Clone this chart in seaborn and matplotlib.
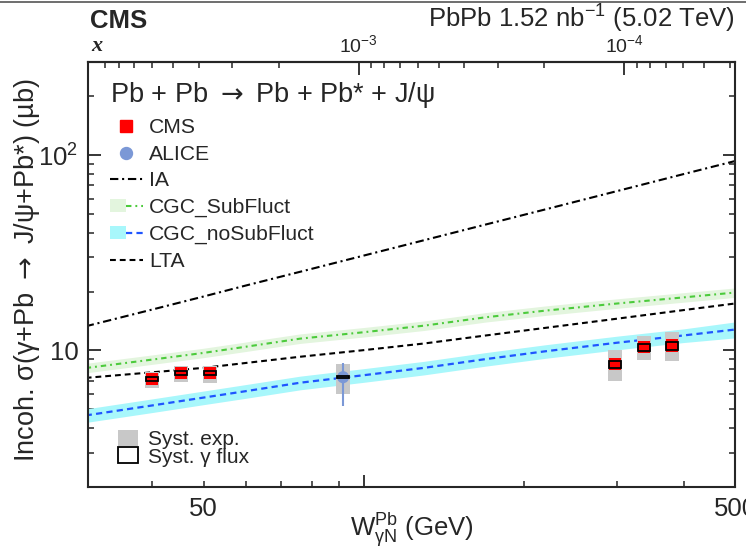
import numpy as np
import pandas as pd
import matplotlib
matplotlib.use("Agg")
import matplotlib.pyplot as plt
import seaborn as sns
from matplotlib.patches import Rectangle, Patch
from matplotlib.lines import Line2D
from matplotlib.legend_handler import HandlerTuple
from matplotlib.ticker import FixedLocator, NullFormatter, FuncFormatter

# ---------------- data ----------------
w_grid = [30, 40, 50, 60, 76, 100, 130, 170, 220, 300, 400, 500]
ia = [13.3, 16.2, 18.9, 21.5, 25.3, 30.6, 36.7, 44.2, 52.8, 65.5, 80.0, 93.3]
lta = [7.24, 7.73, 8.15, 8.63, 9.29, 10.04, 10.86, 11.94, 13.06, 14.55, 16.1, 17.4]
cgc_sub = [8.13, 8.98, 9.72, 10.45, 11.5, 12.4, 13.4, 14.8, 16.0, 17.4, 18.7, 19.8]
cgc_sub_lo = [7.68, 8.49, 9.19, 9.88, 10.87, 11.72, 12.66, 13.99, 15.12, 16.44, 17.67, 18.7]
cgc_sub_hi = [8.59, 9.49, 10.27, 11.05, 12.16, 13.11, 14.16, 15.64, 16.91, 18.39, 19.77, 20.9]
cgc_nosub = [4.65, 5.23, 5.74, 6.19, 6.84, 7.47, 8.15, 9.04, 9.91, 10.96, 11.94, 12.8]
cgc_nosub_lo = [4.28, 4.81, 5.28, 5.69, 6.29, 6.87, 7.50, 8.32, 9.12, 10.08, 10.98, 11.6]
cgc_nosub_hi = [5.02, 5.65, 6.20, 6.69, 7.39, 8.07, 8.80, 9.76, 10.70, 11.84, 12.90, 14.0]

cms_w = [40.0, 45.3, 51.5, 297, 337, 381]
cms_xs = [7.13, 7.65, 7.65, 8.51, 10.4, 10.6]
cms_syst_lo = [6.41, 6.93, 6.80, 6.99, 8.96, 8.85]
cms_syst_hi = [7.80, 8.35, 8.35, 10.08, 11.8, 12.4]
cms_flux_lo = [6.97, 7.47, 7.47, 8.18, 9.96, 10.03]
cms_flux_hi = [7.30, 7.83, 7.83, 8.86, 10.8, 11.0]

alice_w = [91.5]
alice_xs = [7.3]
alice_err_lo = [5.22]
alice_err_hi = [8.6]
alice_syst_lo = [5.97]
alice_syst_hi = [8.5]
alice_flux_lo = [7.22]
alice_flux_hi = [7.38]

top_major = [1e-3, 1e-4]
MJPSI = 3.097

# ---------------- style ----------------
sns.set_style("ticks")
plt.rcParams['font.family'] = ['Liberation Sans', 'DejaVu Sans']
plt.rcParams['mathtext.fontset'] = 'custom'
plt.rcParams['mathtext.rm'] = 'Liberation Sans'
plt.rcParams['mathtext.it'] = 'Liberation Sans:italic'
plt.rcParams['mathtext.bf'] = 'Liberation Sans:bold'

GREEN = '#4ccb3c'
GREEN_BAND = '#e3f5de'
BLUE = '#1f55ff'
CYAN_BAND = '#a8f7fb'
ALICE_C = '#7b98d6'
GREY = '#c8c8c8'

IA_LS = (0, (4.0, 1.8, 1.0, 1.8))
SUB_LS = (0, (2.6, 1.9, 0.9, 1.9))
DASH_LS = (0, (2.8, 1.9))

fig = plt.figure(figsize=(7.46, 5.52), dpi=100)
ax = fig.add_axes([88 / 746, 1 - 487 / 552, 647 / 746, 425 / 552])
ax.set_xscale('log')
ax.set_yscale('log')

df = pd.DataFrame({'W': w_grid, 'IA': ia, 'LTA': lta, 'SUB': cgc_sub, 'NOSUB': cgc_nosub})

# bands
ax.fill_between(w_grid, cgc_sub_lo, cgc_sub_hi, color=GREEN_BAND, lw=0, zorder=1)
ax.fill_between(w_grid, cgc_nosub_lo, cgc_nosub_hi, color=CYAN_BAND, lw=0, zorder=1)

# theory lines
sns.lineplot(data=df, x='W', y='IA', ax=ax, color='black', linewidth=1.5, linestyle=IA_LS, zorder=2)
sns.lineplot(data=df, x='W', y='SUB', ax=ax, color=GREEN, linewidth=1.5, linestyle=SUB_LS, zorder=2)
sns.lineplot(data=df, x='W', y='NOSUB', ax=ax, color=BLUE, linewidth=1.6, linestyle=DASH_LS, zorder=2)
sns.lineplot(data=df, x='W', y='LTA', ax=ax, color='black', linewidth=1.5, linestyle=DASH_LS, zorder=2)

# systematic boxes
def box(w, lo, hi, half_dex, **kw):
    x0 = w * 10 ** (-half_dex)
    x1 = w * 10 ** (half_dex)
    ax.add_patch(Rectangle((x0, lo), x1 - x0, hi - lo, **kw))

for w, lo, hi in zip(cms_w + alice_w, cms_syst_lo + alice_syst_lo, cms_syst_hi + alice_syst_hi):
    box(w, lo, hi, 0.0132, facecolor=GREY, edgecolor='none', zorder=3)

ax.vlines(alice_w, alice_err_lo, alice_err_hi, color=ALICE_C, lw=1.5, zorder=3.5)

sns.scatterplot(x=cms_w, y=cms_xs, ax=ax, marker='s', s=76, color='red', edgecolor='none', zorder=4, legend=False)
sns.scatterplot(x=alice_w, y=alice_xs, ax=ax, marker='o', s=76, color=ALICE_C, edgecolor='none', zorder=4, legend=False)

for w, lo, hi in zip(cms_w + alice_w, cms_flux_lo + alice_flux_lo, cms_flux_hi + alice_flux_hi):
    box(w, lo, hi, 0.0113, facecolor='none', edgecolor='black', lw=1.3, zorder=5)

# axes limits & ticks
ax.set_xlim(30.3, 500)
ax.set_ylim(2, 300)
ax.set_xlabel('')
ax.set_ylabel('')

ax.xaxis.set_major_locator(FixedLocator([100]))
ax.xaxis.set_major_formatter(NullFormatter())
ax.xaxis.set_minor_locator(FixedLocator([40, 50, 60, 70, 80, 90, 200, 300, 400, 500]))
ax.xaxis.set_minor_formatter(FuncFormatter(lambda v, p: '%d' % v if round(v) in (50, 500) else ''))

ax.yaxis.set_major_locator(FixedLocator([10, 100]))
ax.yaxis.set_major_formatter(FuncFormatter(lambda v, p: '10' if round(v) == 10 else r'$10^{2}$'))
ax.yaxis.set_minor_locator(FixedLocator([2, 3, 4, 5, 6, 7, 8, 9, 20, 30, 40, 50, 60, 70, 80, 90, 200, 300]))
ax.yaxis.set_minor_formatter(NullFormatter())

ax.tick_params(axis='x', which='both', direction='in', bottom=True, top=False, labelsize=18.5, pad=7)
ax.tick_params(axis='y', which='both', direction='in', left=True, right=True, labelsize=18.5, pad=7)
ax.tick_params(which='major', length=9, width=1.3)
ax.tick_params(which='minor', length=4.6, width=1.1)
for s in ax.spines.values():
    s.set_linewidth(1.5)
    s.set_visible(True)

# top axis (Bjorken x)
def w_to_x(w):
    w = np.asarray(w, dtype=float)
    with np.errstate(divide='ignore', invalid='ignore'):
        return (MJPSI / w) ** 2

def x_to_w(x):
    x = np.asarray(x, dtype=float)
    with np.errstate(divide='ignore', invalid='ignore'):
        return MJPSI / np.sqrt(x)

secax = ax.secondary_xaxis('top', functions=(w_to_x, x_to_w))
secax.xaxis.set_major_locator(FixedLocator(top_major))
secax.xaxis.set_major_formatter(FuncFormatter(lambda v, p: r'$10^{%d}$' % round(np.log10(v))))
minor_top = [k * 10.0 ** e for e in (-5, -4, -3) for k in range(2, 10)]
secax.xaxis.set_minor_locator(FixedLocator(minor_top))
secax.xaxis.set_minor_formatter(NullFormatter())
secax.tick_params(axis='x', which='both', direction='in', labelsize=14, pad=4)
secax.tick_params(which='major', length=9, width=1.3)
secax.tick_params(which='minor', length=4.6, width=1.1)
secax.spines['top'].set_linewidth(1.5)

# axis titles
fig.text(412 / 746, 1 - 530 / 552, r'W$_{\mathrm{\gamma N}}^{\mathrm{Pb}}$ (GeV)', ha='center', va='center', fontsize=18.5)
fig.text(27 / 746, 1 - 270 / 552, r'Incoh. σ(γ+Pb $\rightarrow$ J/ψ+Pb*) (µb)', rotation=90,
         ha='center', va='center', fontsize=19.5, math_fontfamily='dejavusans')
fig.text(91 / 746, 1 - 46 / 552, 'x', fontsize=16, family='Liberation Serif', style='italic',
         weight='bold', ha='left', va='center')

# header
fig.text(90 / 746, 1 - 28 / 552, 'CMS', fontsize=18.5, weight='bold', ha='left', va='baseline')
fig.text(735 / 746, 1 - 28 / 552, r'PbPb 1.52 nb$^{-1}$ (5.02 TeV)', fontsize=18.5,
         ha='right', va='baseline')
fig.add_artist(Line2D([0, 1], [1 - 1.5 / 552, 1 - 1.5 / 552], color='#555555', lw=1.2))

# legends
h_cms = Line2D([], [], marker='s', color='red', ls='none', markersize=8.6)
h_alice = Line2D([], [], marker='o', color=ALICE_C, ls='none', markersize=8.6)
h_ia = Line2D([], [], color='black', lw=1.5, linestyle=IA_LS)
h_sub = (Patch(facecolor=GREEN_BAND, edgecolor='none'), Line2D([], [], color=GREEN, lw=1.5, linestyle=SUB_LS))
h_nosub = (Patch(facecolor=CYAN_BAND, edgecolor='none'), Line2D([], [], color=BLUE, lw=1.6, linestyle=DASH_LS))
h_lta = Line2D([], [], color='black', lw=1.5, linestyle=DASH_LS)

leg1 = ax.legend([h_cms, h_alice, h_ia, h_sub, h_nosub, h_lta],
                 ['CMS', 'ALICE', 'IA', 'CGC_SubFluct', 'CGC_noSubFluct', 'LTA'],
                 title=r'Pb + Pb $\rightarrow$ Pb + Pb* + J/ψ', title_fontsize=19.5, fontsize=15.2,
                 loc='upper left', bbox_to_anchor=(0.034, 0.957), frameon=False,
                 handlelength=1.55, handleheight=0.6, handletextpad=0.3, labelspacing=0.365,
                 borderpad=0, borderaxespad=0, alignment='left',
                 handler_map={tuple: HandlerTuple(ndivide=None, pad=0)})
leg1.get_title().set_math_fontfamily('dejavusans')
ax.add_artist(leg1)

leg2 = ax.legend([Patch(facecolor=GREY, edgecolor='none'),
                  Patch(facecolor='none', edgecolor='black', lw=1.3)],
                 ['Syst. exp.', 'Syst. γ flux'], fontsize=15,
                 loc='lower left', bbox_to_anchor=(0.046, 0.048), frameon=False,
                 handlelength=0.95, handleheight=0.8, handletextpad=0.5, labelspacing=-0.08,
                 borderpad=0, borderaxespad=0)

fig.savefig('out.png', dpi=100)
